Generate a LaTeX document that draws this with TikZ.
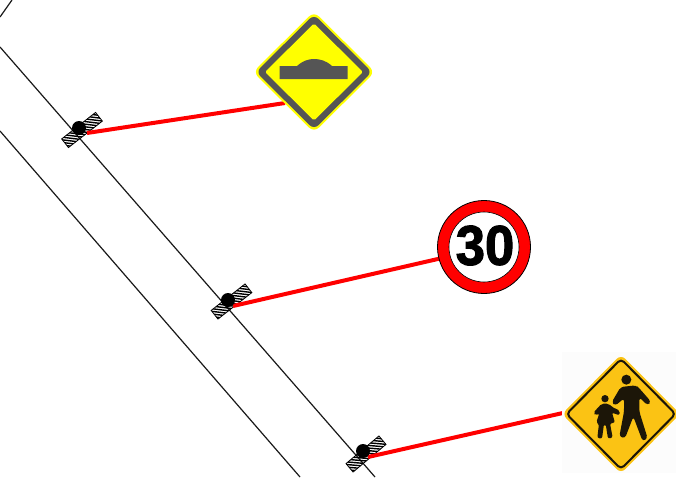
\documentclass[tikz,border=0pt]{standalone}
\usepackage{fontspec}
\setmainfont{Liberation Sans}
\newfontfamily\signfont[FakeBold=2]{Liberation Sans Bold}
\definecolor{signgrey}{HTML}{555555}
\definecolor{signyellow}{RGB}{255,255,0}
\definecolor{signred}{RGB}{255,0,0}
\definecolor{signorange}{HTML}{FBC314}
\definecolor{signedge}{HTML}{1C1608}
\tikzset{
  road/.style={draw=black!90,line width=1.2pt},
  stalk/.style={draw=signred,line width=4pt},
  post/.style={circle,fill=black,inner sep=0pt,minimum size=14pt},
  ringsign/.style={circle,draw=black,line width=0.8pt,fill=signred,inner sep=0pt,minimum size=93pt},
  hatchbar/.pic={
    \begin{scope}
      \clip (-21.5,-5.5) rectangle (21.5,5.5);
      \foreach \i in {-32,-28.3,...,32}{\draw[black,line width=1.4pt] (\i-6,-6)--(\i+6,6);}
    \end{scope}
    \draw[black,line width=0.8pt] (-21.5,-5.5) rectangle (21.5,5.5);
  }
}
\begin{document}
\begin{tikzpicture}[x=1pt,y=-1pt]
\useasboundingbox (0,0) rectangle (676,477);
\fill[white] (0,0) rectangle (676,477);
% roads
\coordinate (ra) at (12,0); \coordinate (rb) at (0,17);
\coordinate (rc) at (0,47); \coordinate (rd) at (375,477);
\coordinate (re) at (0,131); \coordinate (rf) at (300,477);
\draw[road] (ra)--(rb);
\draw[road] (rc)--(rd);
\draw[road] (re)--(rf);
% hatch bars
\pic[rotate=38] at (82,130) {hatchbar};
\pic[rotate=38] at (231.5,301.5) {hatchbar};
\pic[rotate=40] at (366,454) {hatchbar};
% stalks
\coordinate (s1a) at (87,133); \coordinate (s1b) at (285,103);
\coordinate (s2a) at (233,306); \coordinate (s2b) at (440,258.5);
\coordinate (s3a) at (368,457); \coordinate (s3b) at (565,412.5);
\draw[stalk] (s1a)--(s1b);
\draw[stalk] (s2a)--(s2b);
\draw[stalk] (s3a)--(s3b);
% posts
\node[post] (p1) at (79,128) {};
\node[post] (p2) at (228,300) {};
\node[post] (p3) at (363,451) {};
% bump sign
\fill[signyellow,rounded corners=7pt] (314,11.5)--(375,72)--(314,132.5)--(253,72)--cycle;
\fill[signgrey,rounded corners=6pt] (314,14.5)--(372,72)--(314,129.5)--(256,72)--cycle;
\fill[signyellow,rounded corners=1.5pt] (314,23.5)--(363,72)--(314,120.5)--(265,72)--cycle;
\fill[signgrey] (279.5,79) -- (279.5,66) -- (297,66)
  .. controls (303,60.5) and (309,59) .. (314,59)
  .. controls (320,59) and (326,60.5) .. (332,66)
  -- (347.5,66) -- (347.5,79) -- cycle;
% speed sign
\node[ringsign] (sp) at (484,247) {};
\node[circle,draw=black,line width=0.6pt,fill=white,inner sep=0pt,minimum size=70pt] (spi) at (484,247) {};
\node[inner sep=0pt] (spt) at (485,245.5) {\scalebox{0.94}[1]{\fontsize{56}{56}\selectfont\signfont 30}};
% school sign
\fill[black!1] (562,352) rectangle (676,473);
\fill[signorange,rounded corners=6pt] (621,354.5)--(680,414)--(621,473.5)--(562,414)--cycle;
\draw[signedge,line width=2pt,rounded corners=4pt] (621,359)--(675.5,414)--(621,469)--(566.5,414)--cycle;
\begin{scope}[shift={(550,345)},x=0.3333pt,y=-0.3333pt]
  \fill[signedge] (229,104) circle[radius=15];
  \fill[signedge] (165,161) circle[radius=11];
  \fill[signedge,rounded corners=3pt] (212,126)--(258,121)--(268,130)--(303,170)--(293,181)--(268,157)
     --(268,200)--(293,280)--(278,289)--(250,215)--(225,280)--(208,275)--(222,200)--(222,160)
     --(196,182)--(185,172)--cycle;
  \fill[signedge,rounded corners=2pt] (155,176)--(176,176)--(186,186)--(210,197)--(208,211)--(186,203)
     --(195,233)--(180,235)--(188,278)--(174,281)--(167,237)--(162,237)--(156,281)--(142,279)--(147,235)
     --(139,232)--(148,205)--(136,212)--(130,203)--cycle;
\end{scope}
\end{tikzpicture}
\end{document}
